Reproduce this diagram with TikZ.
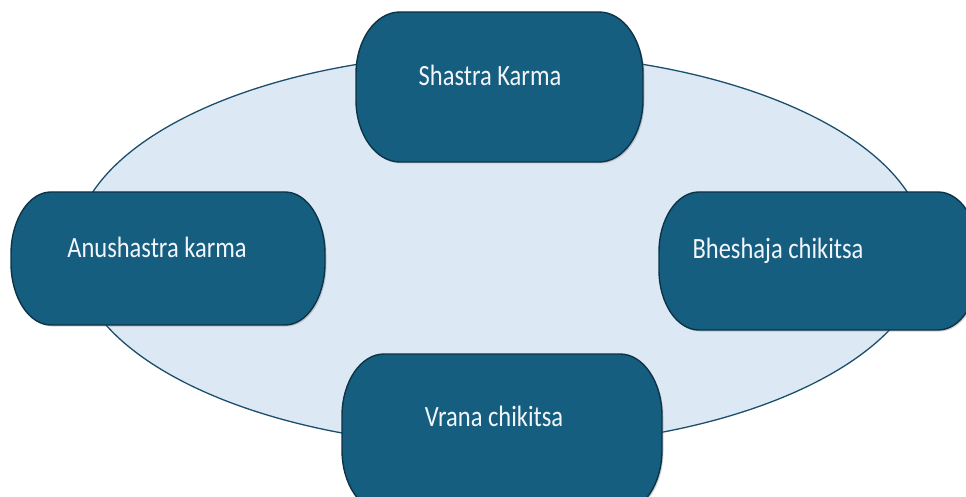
\documentclass[tikz,border=0pt]{standalone}
\usepackage{fontspec}
\setmainfont{Carlito}
\usetikzlibrary{shadows,shapes.geometric}
\definecolor{boxfill}{HTML}{165E80}
\definecolor{boxline}{HTML}{0C3447}
\definecolor{ellfill}{HTML}{DDE8F5}
\definecolor{ellline}{HTML}{1B4F6B}
\definecolor{txt}{HTML}{F2F6FA}
\newcommand{\tallt}[1]{\scalebox{1}[1.2]{#1}}
% x1 y1 x2 y2 rx ry
\newcommand{\pillbox}[6]{%
  \path[pill] (#1+#5,#2) -- (#3-#5,#2)
    arc[start angle=-90, end angle=0, x radius=#5, y radius=#6]
    -- (#3,#4-#6)
    arc[start angle=0, end angle=90, x radius=#5, y radius=#6]
    -- (#1+#5,#4)
    arc[start angle=90, end angle=180, x radius=#5, y radius=#6]
    -- (#1,#2+#6)
    arc[start angle=180, end angle=270, x radius=#5, y radius=#6]
    -- cycle;}
\begin{document}
\begin{tikzpicture}[x=1pt,y=-1pt,
  pill/.style={draw=boxline, line width=1.4pt, fill=boxfill,
    drop shadow={shadow xshift=1.5pt, shadow yshift=-1.5pt, opacity=0.35}},
  lbl/.style={text=txt, font=\fontsize{24.5}{28}\selectfont, inner sep=0pt, anchor=base}
]
\useasboundingbox (0,0) rectangle (966,497);
\clip (0,0) rectangle (966,497);
\fill[white] (0,0) rectangle (966,497);
\node[draw=ellline, line width=1.3pt, fill=ellfill, ellipse, minimum width=852pt, minimum height=394pt, inner sep=0pt] (ell) at (500,250) {};
\pillbox{356}{12}{643}{162}{44}{62}
\pillbox{11}{192}{325}{325}{40}{62}
\pillbox{659}{192}{978}{330}{40}{60}
\pillbox{342}{354}{662}{512}{42}{62}
\node[lbl] (t1) at (490,86) {\tallt{Shastra Karma}};
\node[lbl] (t2) at (157,257) {\tallt{Anushastra karma}};
\node[lbl] (t3) at (778,258) {\tallt{Bheshaja chikitsa}};
\node[lbl] (t4) at (494,426) {\tallt{Vrana chikitsa}};
\end{tikzpicture}
\end{document}
